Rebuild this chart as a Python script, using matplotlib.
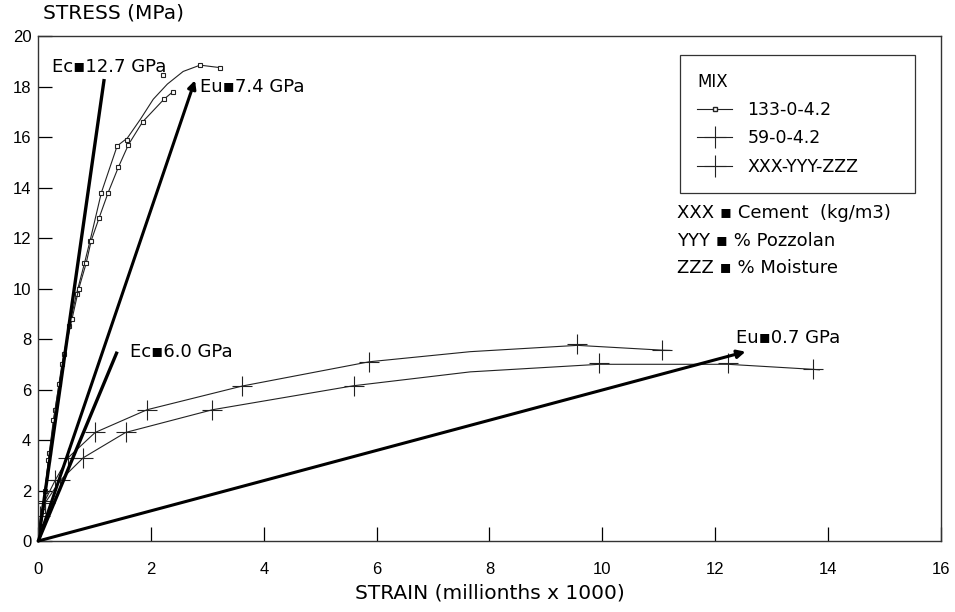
import matplotlib
matplotlib.use("Agg")
import matplotlib.pyplot as plt
from matplotlib.lines import Line2D

plt.rcParams['font.family'] = ['DejaVu Sans']

# Mix 133-0-4.2, specimen 1: curve read along the line, and its marked points
sq1_x = [0, 0.05, 0.12, 0.20, 0.30, 0.42, 0.55, 0.68, 0.82, 0.92, 1.12, 1.40, 1.58, 1.81, 2.04, 2.29, 2.57, 2.87, 3.23]
sq1_y = [0, 0.6, 2.0, 3.5, 5.2, 7.0, 8.5, 9.8, 11.0, 11.9, 13.8, 15.65, 15.96, 16.7, 17.5, 18.1, 18.6, 18.85, 18.75]
sq1_mx = [0, 0.05, 0.12, 0.20, 0.30, 0.42, 0.55, 0.68, 0.82, 0.92, 1.12, 1.40, 1.58, 2.22, 2.87, 3.23]
sq1_my = [0, 0.6, 2.0, 3.5, 5.2, 7.0, 8.5, 9.8, 11.0, 11.9, 13.8, 15.65, 15.9, 18.45, 18.85, 18.75]
# Mix 133-0-4.2, specimen 2
sq2_x = [0, 0.08, 0.18, 0.27, 0.37, 0.46, 0.60, 0.72, 0.85, 0.94, 1.08, 1.24, 1.42, 1.60, 1.85, 2.23, 2.39]
sq2_y = [0, 1.2, 3.2, 4.8, 6.2, 7.4, 8.8, 10.0, 11.0, 11.9, 12.8, 13.8, 14.8, 15.7, 16.6, 17.5, 17.8]

# Mix 59-0-4.2 (two specimens): curve points and marked points
pl1_x = [0, 0.04, 0.12, 0.30, 0.53, 1.01, 1.93, 3.62, 5.87, 7.66, 9.56, 11.06, 11.2]
pl1_y = [0, 1.0, 1.6, 2.4, 3.3, 4.3, 5.2, 6.14, 7.1, 7.5, 7.75, 7.56, 7.55]
pl1_mx = [0.04, 0.12, 0.30, 0.53, 1.01, 1.93, 3.62, 5.87, 9.56, 11.06]
pl1_my = [1.0, 1.6, 2.4, 3.3, 4.3, 5.2, 6.14, 7.1, 7.8, 7.56]
pl2_x = [0, 0.12, 0.39, 0.80, 1.55, 3.09, 5.59, 7.66, 9.95, 12.23, 13.74, 13.85]
pl2_y = [0, 1.5, 2.4, 3.3, 4.3, 5.2, 6.15, 6.7, 7.0, 7.0, 6.8, 6.78]
pl2_mx = [0.12, 0.39, 0.80, 1.55, 3.09, 5.59, 9.95, 12.23, 13.74]
pl2_my = [1.5, 2.4, 3.3, 4.3, 5.2, 6.15, 7.05, 7.05, 6.8]

# Modulus lines (end points)
mod_labels = ["Ec\u25aa12.7 GPa", "Eu\u25aa7.4 GPa", "Ec\u25aa6.0 GPa", "Eu\u25aa0.7 GPa"]
mod_end_x = [1.17, 2.78, 1.40, 12.54]
mod_end_y = [18.3, 18.25, 7.5, 7.5]
mod_arrow = [False, True, False, True]
lab_x = [0.25, 2.87, 1.63, 12.38]
lab_y = [18.77, 17.98, 7.49, 8.04]

x_ticks = [0, 2, 4, 6, 8, 10, 12, 14, 16]
y_ticks = [0, 2, 4, 6, 8, 10, 12, 14, 16, 18, 20]

legend_title = 'MIX'
legend_labels = ['133-0-4.2', '59-0-4.2', 'XXX-YYY-ZZZ']
notes = ["XXX \u25aa Cement  (kg/m3)", "YYY \u25aa % Pozzolan", "ZZZ \u25aa % Moisture"]
notes_y = [13.0, 11.9, 10.8]

fig = plt.figure(figsize=(9.55, 6.12), dpi=100)
ax = fig.add_axes([0.040, 0.116, 0.945, 0.825])
ax.set_xlim(0, 16)
ax.set_ylim(0, 20)

ink = '#222222'
ax.plot(sq1_x, sq1_y, '-', color=ink, lw=0.8)
ax.plot(sq1_mx, sq1_my, 's', ms=3.5, mfc='white', mec=ink, mew=0.8)
ax.plot(sq2_x, sq2_y, '-', color=ink, lw=0.8, marker='s', ms=3.5, mfc='white', mec=ink, mew=0.8)
ax.plot(pl1_x, pl1_y, '-', color=ink, lw=0.8)
ax.plot(pl1_mx, pl1_my, '+', color=ink, ms=14, mew=0.8)
ax.plot(pl2_x, pl2_y, '-', color=ink, lw=0.8)
ax.plot(pl2_mx, pl2_my, '+', color=ink, ms=14, mew=0.8)

for ex, ey, arr in zip(mod_end_x, mod_end_y, mod_arrow):
    if arr:
        ax.annotate('', xy=(ex, ey), xytext=(0, 0),
                    arrowprops=dict(arrowstyle='-|>', color='black', lw=2.2,
                                    mutation_scale=12, shrinkA=0, shrinkB=0))
    else:
        ax.plot([0, ex], [0, ey], color='black', lw=2.4, solid_capstyle='butt')

for t, lx, ly in zip(mod_labels, lab_x, lab_y):
    ax.text(lx, ly, t, fontsize=13, ha='left', va='center')

ax.set_xticks(x_ticks)
ax.set_yticks(y_ticks)
ax.tick_params(direction='in', length=10, width=0.9, labelsize=12, top=False, right=False)
for lbl in ax.get_xticklabels() + ax.get_yticklabels():
    lbl.set_family(['Liberation Sans', 'DejaVu Sans'])
ax.tick_params(axis='x', pad=15)
ax.tick_params(axis='y', pad=5)
for s in ax.spines.values():
    s.set_linewidth(1.0)
    s.set_color('#333333')

ax.set_xlabel('STRAIN (millionths x 1000)', fontsize=14.5, labelpad=5)
fig.text(0.045, 0.978, 'STRESS (MPa)', fontsize=14.5, ha='left', va='center')

handles = [
    Line2D([], [], color=ink, lw=0.8, marker='s', ms=3, mfc='white', mec=ink),
    Line2D([], [], color=ink, lw=0.8, marker='+', ms=16, mew=0.8),
    Line2D([], [], color=ink, lw=0.8, marker='+', ms=16, mew=0.8),
]
leg = ax.legend(handles, legend_labels, title=legend_title,
                loc='upper left', bbox_to_anchor=(0.711, 0.691, 0.260, 0.271),
                mode='expand', fontsize=12.5, title_fontsize=12,
                alignment='left', handlelength=2.0, handletextpad=0.9,
                labelspacing=0.6, borderpad=1.0,
                fancybox=False, framealpha=1, edgecolor='#333333', borderaxespad=0)
leg.get_frame().set_linewidth(0.9)

for n, ny in zip(notes, notes_y):
    ax.text(11.33, ny, n, fontsize=13, ha='left', va='center')

fig.savefig('out.png', dpi=100)
